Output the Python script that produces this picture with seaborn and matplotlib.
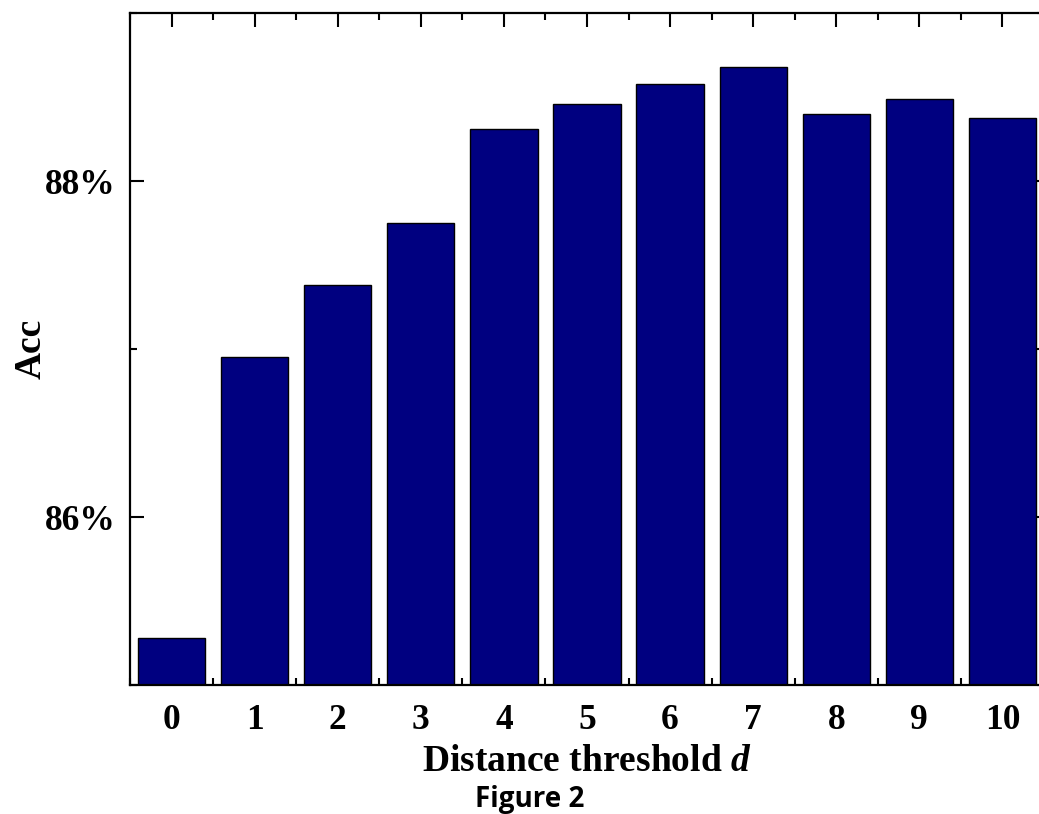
import matplotlib
matplotlib.use("Agg")
import matplotlib.pyplot as plt
import seaborn as sns
import pandas as pd
from matplotlib.ticker import FixedLocator, MultipleLocator, FuncFormatter

thresholds = ["0", "1", "2", "3", "4", "5", "6", "7", "8", "9", "10"]
acc = [85.28, 86.95, 87.38, 87.75, 88.31, 88.46, 88.58, 88.68, 88.40, 88.49, 88.375]
y_ticks = [86, 88]

sns.set_theme(style="ticks")
plt.rcParams["font.family"] = ["Liberation Serif", "DejaVu Serif"]
plt.rcParams["font.weight"] = "bold"
plt.rcParams["text.color"] = "black"
plt.rcParams["axes.labelcolor"] = "black"
plt.rcParams["xtick.color"] = "black"
plt.rcParams["ytick.color"] = "black"
plt.rcParams["mathtext.fontset"] = "custom"
plt.rcParams["mathtext.it"] = "Liberation Serif:italic:bold"
plt.rcParams["mathtext.rm"] = "Liberation Serif:bold"

df = pd.DataFrame({"d": thresholds, "acc": acc})

fig = plt.figure(figsize=(10.39, 8.14), dpi=100)
ax = fig.add_axes([130 / 1039, 1 - 685 / 814, 914 / 1039, 672 / 814])

sns.barplot(data=df, x="d", y="acc", order=thresholds, color="#000080",
            saturation=1, edgecolor="black", linewidth=1.0, width=0.81, ax=ax)

ax.set_ylim(85, 89)
ax.set_xlim(-0.5, 10.5)
ax.yaxis.set_major_locator(FixedLocator(y_ticks))
ax.yaxis.set_minor_locator(MultipleLocator(1))
ax.xaxis.set_minor_locator(MultipleLocator(1, offset=0.5))
ax.yaxis.set_major_formatter(FuncFormatter(lambda v, p: f"{v:.0f}%"))

for s in ax.spines.values():
    s.set_visible(True)
    s.set_linewidth(1.6)
    s.set_color("black")

ax.tick_params(which="major", direction="in", length=10, width=1.5,
               top=True, right=True, labelsize=25.5, color="black", labelcolor="black")
ax.tick_params(axis="x", which="major", pad=14)
ax.tick_params(axis="y", which="major", pad=10)
ax.tick_params(which="minor", direction="in", length=5, width=1.5,
               top=True, right=True, color="black")
for lab in ax.get_xticklabels() + ax.get_yticklabels():
    lab.set_fontweight("bold")

ax.set_xlabel("Distance threshold $d$", fontsize=27, fontweight="bold", labelpad=5,
              color="black")
ax.set_ylabel("Acc", fontsize=27, fontweight="bold", color="black")
ax.yaxis.set_label_coords(-0.089, 0.5)

fig.text(530 / 1039, 1 - 807 / 814, "Figure 2", family=["Open Sans", "DejaVu Sans"],
         fontsize=20, fontweight="bold", ha="center", va="baseline", color="black")

fig.savefig("out.png", dpi=100)
